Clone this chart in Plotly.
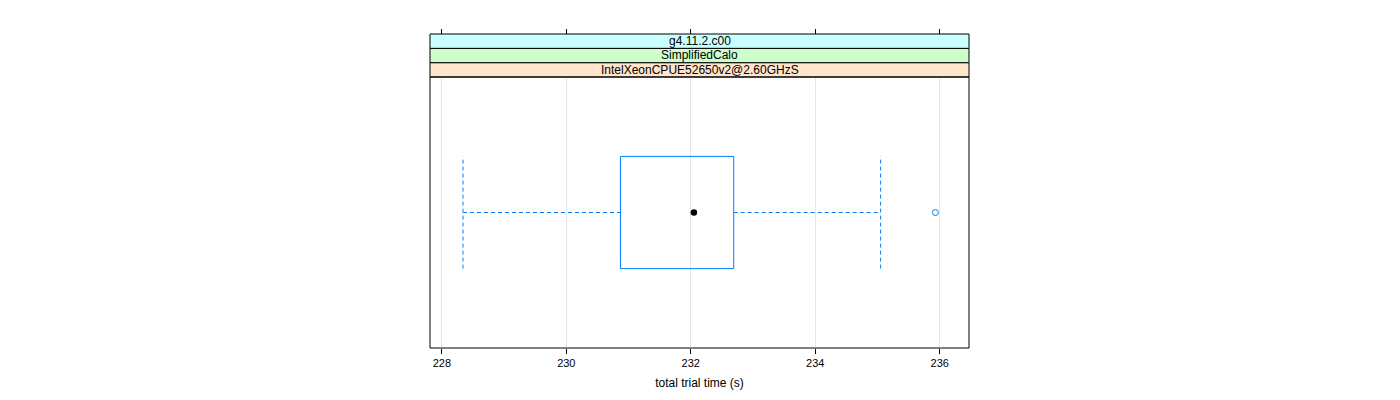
import plotly.graph_objects as go

# data (seconds)
lower_whisker = 228.34
q1 = 230.87
median = 232.05
q3 = 232.69
upper_whisker = 235.05
outliers = [235.93]

strip_labels = ["IntelXeonCPUE52650v2@2.60GHzS", "SimplifiedCalo", "g4.11.2.c00"]
strip_colors = ["#ffe5cc", "#ccffcc", "#ccffff"]
x_ticks = [228, 230, 232, 234, 236]
x_title = "total trial time (s)"

BLUE = "#0080ff"
yc = 1.0
hh = 0.207  # half box height

fig = go.Figure()
# box rectangle
fig.add_trace(go.Scatter(x=[q1, q3, q3, q1, q1], y=[yc - hh, yc - hh, yc + hh, yc + hh, yc - hh],
                         mode="lines", line=dict(color=BLUE, width=1), hoverinfo="skip"))
# whiskers (dashed)
for xa, xb in [(lower_whisker, q1), (q3, upper_whisker)]:
    fig.add_trace(go.Scatter(x=[xa, xb], y=[yc, yc], mode="lines",
                             line=dict(color=BLUE, width=1, dash="4px,3px"), hoverinfo="skip"))
for xv in [lower_whisker, upper_whisker]:
    fig.add_trace(go.Scatter(x=[xv, xv], y=[yc - hh, yc + hh], mode="lines",
                             line=dict(color=BLUE, width=1, dash="4px,3px"), hoverinfo="skip"))
# median dot
fig.add_trace(go.Scatter(x=[median], y=[yc], mode="markers",
                         marker=dict(color="black", size=6.5, symbol="circle"), hoverinfo="skip"))
# outliers
fig.add_trace(go.Scatter(x=outliers, y=[yc] * len(outliers), mode="markers",
                         marker=dict(color=BLUE, size=6, symbol="circle-open",
                                     line=dict(color=BLUE, width=1)), hoverinfo="skip"))
# invisible trace for top axis
fig.add_trace(go.Scatter(x=[x_ticks[0]], y=[yc], xaxis="x2", mode="markers",
                         marker=dict(opacity=0), hoverinfo="skip"))

xr = [227.81, 236.47]
dom_top = 271 / 314
strip_h = (1 - dom_top) / 3

shapes = []
annotations = []
for i, (lab, col) in enumerate(zip(strip_labels, strip_colors)):
    y0 = dom_top + i * strip_h
    y1 = y0 + strip_h
    shapes.append(dict(type="rect", xref="paper", yref="paper", x0=0, x1=1, y0=y0, y1=y1,
                       fillcolor=col, line=dict(color="black", width=1), layer="above"))
    annotations.append(dict(text=lab, xref="paper", yref="paper", x=0.5, y=(y0 + y1) / 2,
                            showarrow=False, font=dict(size=12, color="black"),
                            xanchor="center", yanchor="middle"))
# panel border
shapes.append(dict(type="rect", xref="paper", yref="paper", x0=0, x1=1, y0=0, y1=dom_top,
                   line=dict(color="black", width=1), fillcolor="rgba(0,0,0,0)", layer="above"))

fig.update_layout(
    width=1400, height=400,
    margin=dict(l=430, r=431, t=34, b=52),
    paper_bgcolor="white", plot_bgcolor="white",
    showlegend=False,
    font=dict(family="Liberation Sans, Arial, sans-serif", color="black"),
    xaxis=dict(range=xr, tickvals=x_ticks, ticks="outside", ticklen=5, tickcolor="black",
               showgrid=True, gridcolor="#e6e6e6", gridwidth=1, zeroline=False,
               showline=False, tickfont=dict(size=11),
               title=dict(text=x_title, font=dict(size=12), standoff=10)),
    xaxis2=dict(range=xr, tickvals=x_ticks, ticks="outside", ticklen=5, tickcolor="black",
                overlaying="x", side="top", anchor="free", position=1,
                showticklabels=False, showgrid=False, zeroline=False, showline=False),
    yaxis=dict(range=[0.5, 1.5], domain=[0, dom_top], showticklabels=False, ticks="",
               showgrid=False, zeroline=False, showline=False),
    shapes=shapes, annotations=annotations,
)

fig.write_html("out.html")
